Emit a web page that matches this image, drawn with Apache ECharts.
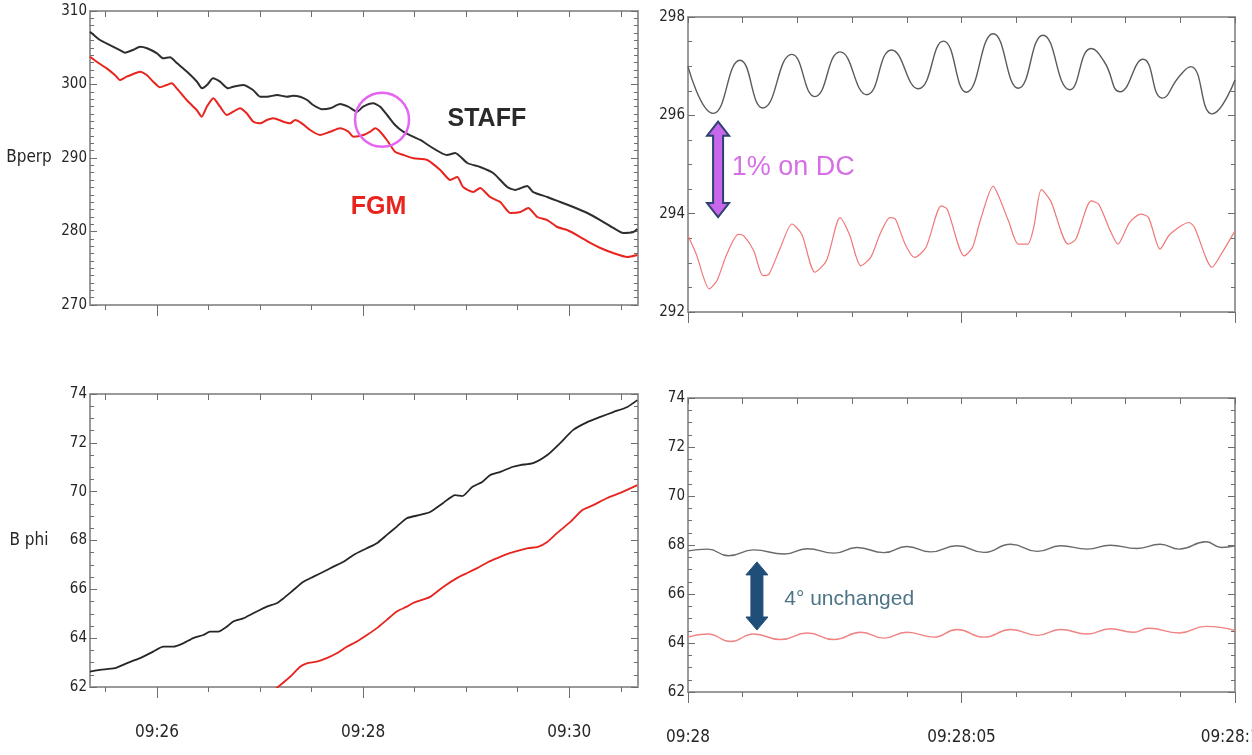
<!DOCTYPE html>
<html>
<head>
<meta charset="utf-8">
<script src="https://cdn.jsdelivr.net/npm/echarts@6/dist/echarts.min.js"></script>
<style>
  html, body { margin: 0; padding: 0; background: #ffffff; }
  #chart { width: 1252px; height: 755px; }
</style>
</head>
<body>
<div id="chart"></div>
<script>
// ---- time axes -------------------------------------------------------------
// wide panels: seconds after 09:25:00 ; zoomed panels: seconds after 09:28:00
const wideRange = [21, 340];
const wideTickSec = [30, 60, 90, 120, 150, 180, 210, 240, 270, 300, 330];
const wideLabelSec = [60, 180, 300];
const zoomRange = [0, 10];
const zoomTickSec = [0, 1, 2, 3, 4, 5, 6, 7, 8, 9, 10];
const zoomLabelSec = [0, 5, 10];

// ---- Bperp, 09:25:21 - 09:30:40 (nT) --------------------------------------
const staffPerpSec = [21.0, 26.8, 32.6, 38.4, 41.4, 46.0, 50.1, 54.2, 60.0, 63.5, 67.6, 71.7, 77.5, 83.3, 86.2, 89.1, 92.6, 96.7, 101.4, 104.3, 110.1, 115.9, 120.0, 124.1, 129.9, 135.7, 139.2, 143.3, 147.4, 150.9, 156.1, 160.8, 166.6, 171.3, 176.5, 180.0, 185.8, 189.9, 194.0, 198.6, 203.3, 209.1, 213.2, 228.9, 233.6, 240.6, 248.1, 255.7, 263.9, 268.5, 275.5, 279.0, 287.2, 294.7, 302.3, 310.5, 318.0, 325.6, 331.4, 337.3, 339.6];
const staffPerp = [307.18, 306.05, 305.37, 304.69, 304.33, 304.69, 305.14, 304.93, 304.24, 303.56, 303.70, 302.88, 301.74, 300.38, 299.48, 299.93, 300.84, 300.38, 299.48, 299.70, 299.93, 299.25, 298.34, 298.34, 298.57, 298.34, 298.48, 298.34, 297.89, 297.21, 296.63, 296.76, 297.35, 296.98, 296.30, 296.98, 297.44, 296.98, 295.85, 294.49, 293.58, 292.90, 292.45, 290.41, 290.68, 289.32, 288.78, 287.96, 286.05, 285.65, 286.19, 285.37, 284.69, 284.01, 283.33, 282.52, 281.56, 280.48, 279.80, 279.93, 280.34];
const fgmPerpSec = [21.0, 24.9, 30.7, 35.5, 38.4, 42.3, 46.2, 50.1, 54.0, 57.8, 61.7, 65.6, 68.6, 71.5, 77.3, 83.1, 86.0, 89.0, 92.8, 96.7, 100.6, 104.4, 108.3, 112.2, 116.1, 120.0, 123.9, 127.7, 133.6, 137.5, 140.4, 144.3, 149.1, 154.9, 160.8, 166.6, 171.4, 174.4, 180.2, 184.1, 187.0, 189.9, 193.8, 198.6, 203.5, 209.3, 217.3, 224.9, 230.7, 234.8, 238.2, 244.1, 248.1, 253.9, 259.8, 265.6, 271.5, 276.1, 281.4, 287.2, 293.0, 298.8, 306.4, 312.2, 318.1, 325.6, 333.8, 339.6];
const fgmPerp = [303.78, 303.10, 302.20, 301.29, 300.61, 301.06, 301.43, 301.74, 301.29, 300.38, 299.62, 299.93, 300.16, 299.48, 297.89, 296.53, 295.62, 296.98, 298.12, 296.98, 295.85, 296.30, 296.76, 296.08, 294.94, 294.72, 295.17, 295.40, 294.94, 294.72, 295.17, 294.72, 293.81, 293.13, 293.58, 294.04, 293.58, 292.90, 293.13, 293.58, 294.04, 293.58, 292.45, 290.86, 290.41, 289.96, 289.73, 288.37, 287.01, 287.41, 286.05, 285.37, 285.92, 284.69, 284.01, 282.52, 282.65, 283.20, 281.97, 281.56, 280.61, 280.20, 279.25, 278.44, 277.76, 277.07, 276.53, 276.80];

// ---- B phi, 09:25:21 - 09:30:40 (deg) --------------------------------------
const staffPhiSec = [21.0, 26.8, 35.5, 42.3, 50.1, 57.8, 63.7, 69.5, 75.3, 81.1, 87.0, 90.9, 95.7, 100.6, 104.4, 110.2, 116.1, 123.9, 129.7, 133.6, 139.4, 145.2, 151.1, 156.9, 162.7, 168.5, 174.4, 182.1, 188.0, 193.8, 199.6, 205.4, 213.2, 219.0, 226.6, 233.6, 237.7, 243.5, 249.3, 254.0, 259.8, 266.8, 271.5, 279.0, 287.2, 294.7, 302.3, 310.5, 318.1, 325.6, 333.8, 339.6];
const staffPhi = [62.63, 62.70, 62.77, 62.97, 63.18, 63.45, 63.65, 63.65, 63.79, 64.00, 64.13, 64.27, 64.27, 64.47, 64.68, 64.81, 65.02, 65.29, 65.43, 65.63, 65.97, 66.31, 66.52, 66.72, 66.93, 67.13, 67.41, 67.68, 67.89, 68.23, 68.57, 68.91, 69.05, 69.17, 69.54, 69.86, 69.82, 70.19, 70.40, 70.68, 70.81, 71.01, 71.09, 71.17, 71.50, 71.99, 72.53, 72.85, 73.06, 73.26, 73.47, 73.75];
const fgmPhiSec = [128.7, 137.5, 143.3, 147.2, 153.0, 158.8, 164.6, 170.5, 176.3, 182.2, 188.0, 193.8, 199.6, 205.4, 209.1, 219.0, 226.6, 234.8, 240.6, 246.4, 252.8, 258.1, 265.6, 271.5, 276.1, 281.4, 287.2, 293.0, 300.6, 307.6, 314.0, 322.1, 329.7, 339.6];
const fgmPhi = [61.90, 62.42, 62.83, 62.97, 63.04, 63.18, 63.38, 63.65, 63.86, 64.13, 64.41, 64.75, 65.09, 65.29, 65.44, 65.69, 66.10, 66.47, 66.67, 66.87, 67.12, 67.28, 67.49, 67.61, 67.69, 67.73, 67.94, 68.31, 68.76, 69.25, 69.45, 69.74, 69.95, 70.27];

// ---- Bperp, 09:28:00 - 09:28:10 ---------------------------------------------
const staffPerpZoomSec = [0, 0.46, 0.95, 1.37, 1.90, 2.32, 2.78, 3.27, 3.72, 4.21, 4.67, 5.09, 5.58, 6.04, 6.49, 6.98, 7.37, 7.61, 7.90, 8.32, 8.67, 8.98, 9.19, 9.58, 10];
const staffPerpZoom = [296.99, 296.04, 297.12, 296.15, 297.24, 296.38, 297.29, 296.42, 297.33, 296.54, 297.51, 296.47, 297.66, 296.55, 297.63, 296.52, 297.36, 297.09, 296.48, 297.14, 296.35, 296.79, 296.99, 296.03, 296.72];
const fgmPerpZoomSec = [0, 0.15, 0.39, 0.53, 0.71, 0.92, 1.02, 1.20, 1.37, 1.48, 1.69, 1.90, 2.08, 2.32, 2.53, 2.78, 2.95, 3.16, 3.34, 3.51, 3.69, 3.79, 3.97, 4.14, 4.35, 4.63, 4.74, 5.05, 5.20, 5.34, 5.58, 5.69, 5.86, 6.04, 6.21, 6.32, 6.46, 6.63, 6.95, 7.09, 7.37, 7.51, 7.72, 7.86, 8.07, 8.28, 8.42, 8.63, 8.81, 9.16, 9.26, 9.58, 9.75, 10];
const fgmPerpZoom = [293.55, 293.18, 292.47, 292.64, 293.18, 293.58, 293.55, 293.25, 292.74, 292.77, 293.31, 293.79, 293.58, 292.81, 293.04, 293.92, 293.58, 292.94, 293.11, 293.58, 293.92, 293.89, 293.38, 293.11, 293.31, 294.16, 294.09, 293.14, 293.31, 293.85, 294.56, 294.33, 293.85, 293.38, 293.38, 293.72, 294.49, 294.26, 293.38, 293.48, 294.26, 294.19, 293.65, 293.38, 293.82, 293.99, 293.92, 293.28, 293.58, 293.82, 293.72, 292.91, 293.18, 293.65];

// ---- B phi, 09:28:00 - 09:28:10 ---------------------------------------------
const staffPhiZoomSec = [0, 0.36, 0.74, 1.20, 1.76, 2.18, 2.67, 3.09, 3.58, 4.00, 4.43, 4.92, 5.41, 5.90, 6.39, 6.81, 7.30, 7.72, 8.21, 8.63, 8.98, 9.47, 9.75, 10];
const staffPhiZoom = [67.76, 67.83, 67.56, 67.80, 67.63, 67.85, 67.67, 67.90, 67.69, 67.94, 67.72, 67.97, 67.70, 68.03, 67.74, 67.97, 67.83, 67.99, 67.86, 68.03, 67.83, 68.13, 67.90, 67.97];
const fgmPhiZoomSec = [0, 0.36, 0.78, 1.20, 1.69, 2.18, 2.67, 3.16, 3.58, 4.00, 4.49, 4.92, 5.41, 5.90, 6.39, 6.81, 7.30, 7.72, 8.14, 8.42, 8.98, 9.47, 10];
const fgmPhiZoom = [64.24, 64.37, 64.06, 64.37, 64.14, 64.41, 64.14, 64.44, 64.20, 64.44, 64.24, 64.55, 64.24, 64.55, 64.31, 64.55, 64.37, 64.58, 64.44, 64.60, 64.41, 64.68, 64.51];

// ---- styling ---------------------------------------------------------------
const FRAME = '#9a9a9a';
const TICK = '#6e6e6e';
const LABEL = '#262626';
const NARROW = "'Liberation Sans Narrow', 'Arial Narrow', 'DejaVu Sans Condensed', sans-serif";
const SANS = "'Liberation Sans', Arial, 'DejaVu Sans', sans-serif";

const pad2 = n => String(n).padStart(2, '0');
const wideFmt = s => '09:' + pad2(25 + Math.floor(s / 60));
const zoomFmt = s => (s === 0 ? '09:28' : '09:28:' + pad2(s));

const grids = [
  { left: 90, top: 11, width: 548, height: 294 },   // Bperp wide
  { left: 688, top: 17, width: 547, height: 295 },  // Bperp zoom
  { left: 90, top: 394, width: 548, height: 293 },  // B phi wide
  { left: 688, top: 398, width: 547, height: 294 }  // B phi zoom
].map(g => Object.assign({ containLabel: false, outerBoundsMode: 'none', show: false }, g));

function frameLine() {
  return { show: true, onZero: false, lineStyle: { color: FRAME, width: 2 } };
}

// three x axes per panel: bottom frame with short ticks, top frame with inner ticks,
// and a bare bottom axis carrying the longer labelled ticks
function xAxesFor(grid, range, ticks, labels, fmt, showLabels) {
  const base = { gridIndex: grid, type: 'value', min: range[0], max: range[1], splitLine: { show: false } };
  return [
    Object.assign({}, base, {
      position: 'bottom', axisLine: frameLine(),
      axisTick: { show: true, customValues: ticks, length: 5, lineStyle: { color: TICK } },
      axisLabel: { show: false }
    }),
    Object.assign({}, base, {
      position: 'top', axisLine: frameLine(),
      axisTick: { show: true, inside: true, customValues: ticks, length: 6, lineStyle: { color: TICK } },
      axisLabel: { show: false }
    }),
    Object.assign({}, base, {
      position: 'bottom', axisLine: { show: false },
      axisTick: { show: true, customValues: labels, length: 11, lineStyle: { color: TICK } },
      axisLabel: {
        show: showLabels, customValues: labels, formatter: fmt, margin: 37,
        fontFamily: NARROW, fontSize: 17, color: LABEL
      }
    })
  ];
}

function yAxesFor(grid, min, max, interval, minorSplit, name) {
  const base = { gridIndex: grid, type: 'value', min, max, interval, splitLine: { show: false } };
  const ticks = { show: true, inside: true, length: 7, lineStyle: { color: TICK } };
  const minor = { show: true, splitNumber: minorSplit, length: 4, lineStyle: { color: TICK } };
  return [
    Object.assign({}, base, {
      position: 'left', axisLine: frameLine(), axisTick: ticks, minorTick: minor,
      axisLabel: { margin: 3, fontFamily: NARROW, fontSize: 15, color: LABEL },
      name: name || '', nameLocation: 'middle', nameRotate: 0, nameGap: 61,
      nameTextStyle: { fontFamily: NARROW, fontSize: 17, color: LABEL, align: 'center', verticalAlign: 'middle' }
    }),
    Object.assign({}, base, {
      position: 'right', axisLine: frameLine(), axisTick: ticks, minorTick: minor,
      axisLabel: { show: false }
    })
  ];
}

function trace(grid, times, values, color, width, smooth) {
  return {
    type: 'line', xAxisIndex: grid * 3, yAxisIndex: grid * 2,
    data: times.map((t, i) => [t, values[i]]),
    showSymbol: false, symbol: 'none', smooth: smooth, clip: true, silent: true,
    lineStyle: { color: color, width: width }
  };
}

const chart = echarts.init(document.getElementById('chart'), null, { renderer: 'canvas', width: 1252, height: 755 });

chart.setOption({
  animation: false,
  backgroundColor: '#ffffff',
  grid: grids,
  xAxis: [].concat(
    xAxesFor(0, wideRange, wideTickSec, wideLabelSec, wideFmt, false),
    xAxesFor(1, zoomRange, zoomTickSec, zoomLabelSec, zoomFmt, false),
    xAxesFor(2, wideRange, wideTickSec, wideLabelSec, wideFmt, true),
    xAxesFor(3, zoomRange, zoomTickSec, zoomLabelSec, zoomFmt, true)
  ),
  yAxis: [].concat(
    yAxesFor(0, 270, 310, 10, 10, 'Bperp'),
    yAxesFor(1, 292, 298, 2, 4, ''),
    yAxesFor(2, 62, 74, 2, 4, 'B phi'),
    yAxesFor(3, 62, 74, 2, 4, '')
  ),
  series: [
    trace(0, staffPerpSec, staffPerp, '#2e2e2e', 2, 0.2),
    trace(0, fgmPerpSec, fgmPerp, '#e8241f', 2, 0.2),
    trace(1, staffPerpZoomSec, staffPerpZoom, '#5a5a5a', 1.4, 0.5),
    trace(1, fgmPerpZoomSec, fgmPerpZoom, '#f07878', 1.2, 0.25),
    trace(2, staffPhiSec, staffPhi, '#262626', 1.8, 0.2),
    trace(2, fgmPhiSec, fgmPhi, '#e8241f', 1.8, 0.2),
    trace(3, staffPhiZoomSec, staffPhiZoom, '#6a6a6a', 1.4, 0.5),
    trace(3, fgmPhiZoomSec, fgmPhiZoom, '#f08484', 1.4, 0.5)
  ]
});

// ---- annotations, placed in data coordinates ----------------------------------
const at = (seriesIndex, t, v) => chart.convertToPixel({ seriesIndex: seriesIndex }, [t, v]);

function doubleArrow(x, y1, y2, headH, headHalf, shaftHalf) {
  return [
    [x, y1], [x + headHalf, y1 + headH], [x + shaftHalf, y1 + headH],
    [x + shaftHalf, y2 - headH], [x + headHalf, y2 - headH], [x, y2],
    [x - headHalf, y2 - headH], [x - shaftHalf, y2 - headH],
    [x - shaftHalf, y1 + headH], [x - headHalf, y1 + headH]
  ];
}

const ring = at(0, 191, 295.2);
const staffTag = at(0, 252, 295.3);
const fgmTag = at(0, 189, 283.3);
const dcTop = at(2, 0.55, 295.87);
const dcBottom = at(2, 0.55, 293.93);
const dcText = at(2, 0.8, 294.93);
const phiTop = at(6, 1.26, 67.31);
const phiBottom = at(6, 1.26, 64.53);
const phiText = at(6, 1.76, 65.8);

chart.setOption({
  graphic: [
    {
      type: 'circle', z: 100, silent: true,
      shape: { cx: ring[0], cy: ring[1], r: 27 },
      style: { fill: 'none', stroke: '#e465f2', lineWidth: 2.5 }
    },
    {
      type: 'text', z: 100, silent: true, x: staffTag[0], y: staffTag[1],
      style: { text: 'STAFF', fill: '#2a2a2a', font: 'bold 25px ' + SANS, align: 'center', verticalAlign: 'middle' }
    },
    {
      type: 'text', z: 100, silent: true, x: fgmTag[0], y: fgmTag[1],
      style: { text: 'FGM', fill: '#e8241f', font: 'bold 25px ' + SANS, align: 'center', verticalAlign: 'middle' }
    },
    {
      type: 'polygon', z: 100, silent: true,
      shape: { points: doubleArrow(dcTop[0], dcTop[1], dcBottom[1], 14, 11, 5) },
      style: { fill: '#c867ec', stroke: '#2d4270', lineWidth: 2 }
    },
    {
      type: 'text', z: 100, silent: true, x: dcText[0], y: dcText[1],
      style: { text: '1% on DC', fill: '#d66fe6', font: '27px ' + SANS, align: 'left', verticalAlign: 'middle' }
    },
    {
      type: 'polygon', z: 100, silent: true,
      shape: { points: doubleArrow(phiTop[0], phiTop[1], phiBottom[1], 13, 11, 6) },
      style: { fill: '#1f4e79', stroke: '#1f4e79', lineWidth: 1 }
    },
    {
      type: 'text', z: 100, silent: true, x: phiText[0], y: phiText[1],
      style: { text: '4° unchanged', fill: '#4d7487', font: '21px ' + SANS, align: 'left', verticalAlign: 'middle' }
    }
  ]
});
</script>
</body>
</html>
